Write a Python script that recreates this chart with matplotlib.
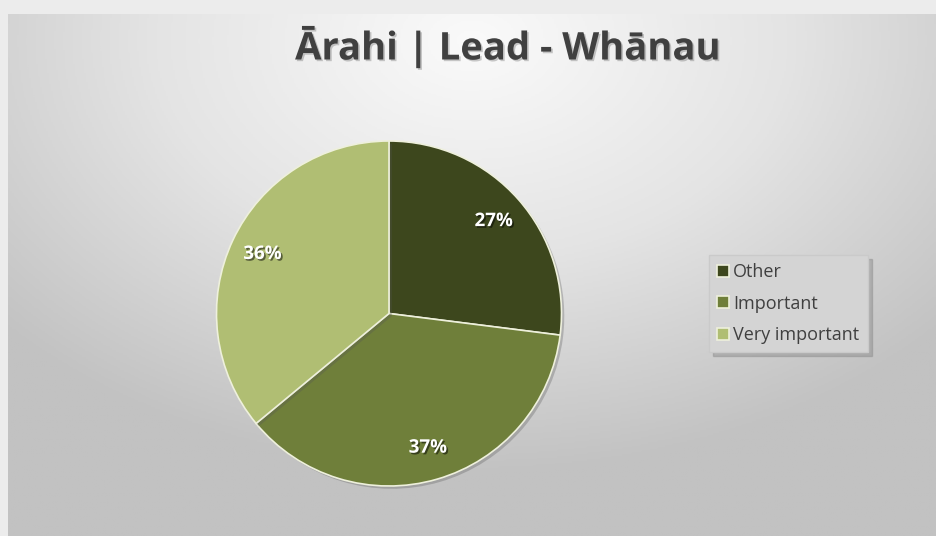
import numpy as np
import matplotlib.pyplot as plt
import matplotlib.patheffects as pe
from matplotlib.colors import LinearSegmentedColormap

categories = ['Other', 'Important', 'Very important']
shares = [27, 37, 36]
colors = ['#3d471d', '#6f7f3a', '#b0be73']
title = 'Ārahi | Lead - Whānau'

W, H = 936, 536
fig = plt.figure(figsize=(W / 100, H / 100), dpi=100)
fig.patch.set_facecolor('#ececec')

# background panel with a radial gray gradient
bg = fig.add_axes([8 / W, 0, 1 - 8 / W, 1 - 14 / H])
bg.set_axis_off()
yy, xx = np.mgrid[0:1:300j, 0:1:500j]
d = np.sqrt(((xx - 0.5) * 1.1) ** 2 + ((yy - 0.05) * 0.9) ** 2)
grad = LinearSegmentedColormap.from_list('g', ['#fafafa', '#e4e4e4', '#c2c2c2'])
bg.imshow(d, cmap=grad, aspect='auto', extent=[0, 1, 0, 1], origin='upper',
          vmin=0, vmax=0.75)
bg.set_xlim(0, 1)
bg.set_ylim(0, 1)

# pie
r_px = 172.5
cx, cy = 389, 313.5
ax = fig.add_axes([(cx - r_px) / W, (H - cy - r_px) / H, 2 * r_px / W, 2 * r_px / H])
ax.set_aspect('equal')
wedges, texts, autotexts = ax.pie(
    shares, colors=colors, startangle=90, counterclock=False, radius=1,
    autopct='%d%%', pctdistance=0.81,
    wedgeprops=dict(edgecolor='#eef0dc', linewidth=1.2),
    textprops=dict(color='white', fontsize=13.5, fontweight='bold', family='Open Sans'))
for w in wedges:
    w.set_path_effects([pe.SimplePatchShadow(offset=(2, -2), shadow_rgbFace='#555555', alpha=0.3),
                        pe.Normal()])
for t in autotexts:
    t.set_path_effects([pe.SimplePatchShadow(offset=(1.2, -1.2), shadow_rgbFace='black', alpha=0.5),
                        pe.Normal()])
ax.set_xlim(-1, 1)
ax.set_ylim(-1, 1)

# title
fig.text(508 / W, 1 - 48 / H, title, ha='center', va='center', fontsize=27.5,
         fontweight='bold', family='Open Sans', color='#404040',
         path_effects=[pe.SimplePatchShadow(offset=(1.2, -1.2), shadow_rgbFace='black', alpha=0.2),
                       pe.Normal()])

# legend
leg = fig.legend(wedges, categories, loc='upper left',
                 bbox_to_anchor=(709 / W, 1 - 255 / H),
                 frameon=True, fancybox=False,
                 shadow=dict(color='#8a8a8a', alpha=0.45, ox=3, oy=-3),
                 prop=dict(family='Open Sans', size=13),
                 handlelength=0.65, handleheight=0.65, handletextpad=0.25,
                 labelspacing=0.75, borderpad=0.45, borderaxespad=0)
leg.get_frame().set_facecolor('#d4d4d4')
leg.get_frame().set_edgecolor('#cacaca')
leg.get_frame().set_alpha(1)
for t in leg.get_texts():
    t.set_color('#404040')
for h in leg.legend_handles:
    h.set_path_effects([])
    h.set_edgecolor('#eef0dc')

fig.savefig('out.png', dpi=100, facecolor=fig.get_facecolor())
